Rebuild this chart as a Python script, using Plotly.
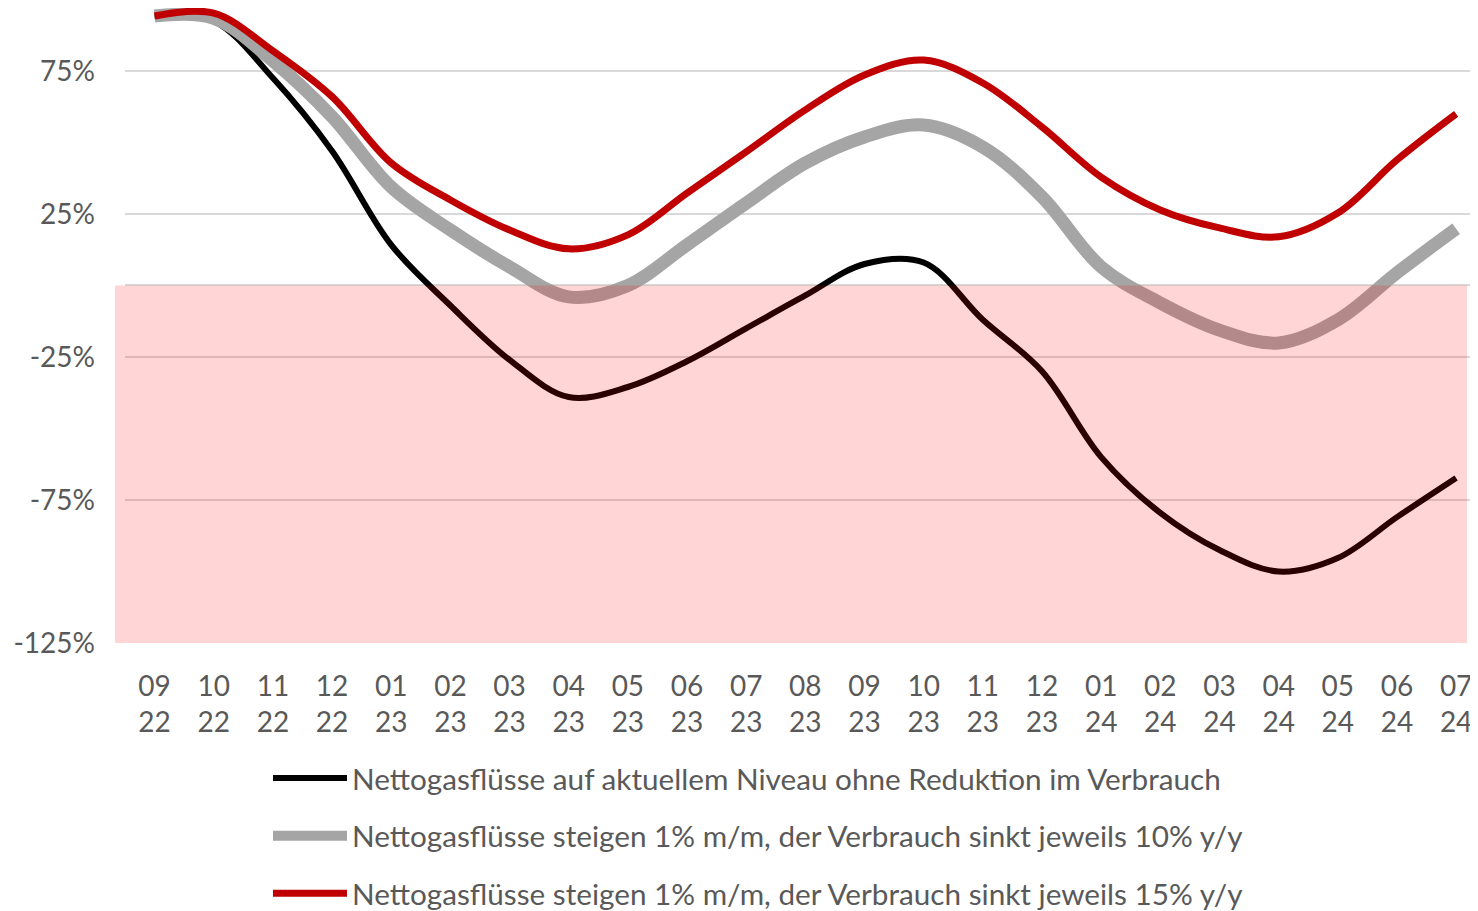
import plotly.graph_objects as go

months = ["09", "10", "11", "12", "01", "02", "03", "04", "05", "06", "07", "08",
          "09", "10", "11", "12", "01", "02", "03", "04", "05", "06", "07"]
years = ["22", "22", "22", "22", "23", "23", "23", "23", "23", "23", "23", "23",
         "23", "23", "23", "23", "24", "24", "24", "24", "24", "24", "24"]
categories = [f"{m}<br>{y}" for m, y in zip(months, years)]

black_vals = [94.2, 92.4, 72.5, 47.0, 14.2, -7.0, -26.0, -39.0, -35.5, -26.5, -15.0, -3.5,
              7.5, 8.0, -12.0, -30.0, -60.0, -79.5, -92.5, -100.0, -95.3, -81.0, -67.3]
gray_vals = [94.2, 93.4, 78.5, 59.0, 34.4, 19.4, 6.5, -4.0, 0.0, 14.2, 28.8, 42.8,
             51.9, 56.1, 48.4, 31.0, 6.5, -6.1, -15.6, -20.1, -12.0, 4.4, 19.8]
red_vals = [94.2, 95.2, 82.0, 66.0, 42.8, 29.9, 19.4, 12.8, 17.7, 32.3, 46.7, 61.4,
            73.6, 78.8, 70.8, 55.4, 37.9, 26.4, 20.1, 17.0, 25.3, 43.9, 60.0]

series_names = [
    "Nettogasflüsse auf aktuellem Niveau ohne Reduktion im Verbrauch",
    "Nettogasflüsse steigen 1% m/m, der Verbrauch sinkt jeweils 10% y/y",
    "Nettogasflüsse steigen 1% m/m, der Verbrauch sinkt jeweils 15% y/y",
]
y_tickvals = [-125, -75, -25, 25, 75]
y_ticktext = [f"{v}%" for v in y_tickvals]
y_range = [-125, 97.0]
zone_low, zone_high = -125, 0

FONT = "Lato"
TXT = "#595959"

x_idx = list(range(len(categories)))

fig = go.Figure()
styles = [("#000000", 6), ("#A5A5A5", 13), ("#C00000", 7)]
for i, (vals, name, (col, w)) in enumerate(zip([black_vals, gray_vals, red_vals], series_names, styles)):
    fig.add_trace(go.Scatter(
        x=x_idx, y=vals, name=name, mode="lines",
        line=dict(color=col, width=w, shape="spline", smoothing=1.0),
        legendgroup=f"g{i}",
    ))

fig.add_shape(type="rect", xref="paper", yref="y",
              x0=-0.0074, x1=0.9919, y0=zone_low, y1=zone_high,
              fillcolor="rgba(255,0,0,0.165)", line=dict(width=0), layer="above")

fig.update_layout(
    width=1470, height=903,
    margin=dict(l=117, r=0, t=0, b=268, autoexpand=False),
    paper_bgcolor="white", plot_bgcolor="white",
    font=dict(family=FONT, size=28, color=TXT),
    showlegend=True,
    legend=dict(
        orientation="v", x=(260 - 117) / 1353, xanchor="left", y=-0.172, yanchor="top",
        font=dict(family=FONT, size=29.7, color=TXT),
        tracegroupgap=16, itemwidth=74, bgcolor="rgba(0,0,0,0)",
    ),
)
fig.update_xaxes(
    tickmode="array", tickvals=x_idx, ticktext=categories, automargin=False,
    range=[-0.5, 22.37], showgrid=False, showline=False, zeroline=False,
    ticks="", ticklabelstandoff=24, tickfont=dict(family=FONT, size=28, color=TXT),
)
fig.update_yaxes(
    range=y_range, tickmode="array", tickvals=y_tickvals, ticktext=y_ticktext,
    automargin=False,
    showgrid=True, gridcolor="#D9D9D9", gridwidth=2,
    zeroline=True, zerolinecolor="#D9D9D9", zerolinewidth=2,
    showline=False, ticks="", ticklabelstandoff=29,
    tickfont=dict(family=FONT, size=28, color=TXT),
)

fig.write_html("out.html")
